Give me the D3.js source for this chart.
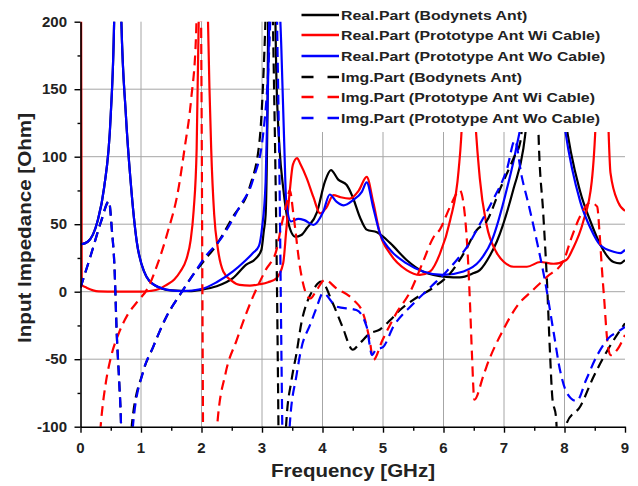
<!DOCTYPE html>
<html>
<head>
<meta charset="utf-8">
<script src="https://cdn.jsdelivr.net/npm/d3@7"></script>
<style>
  body { margin: 0; background: #fff; }
  text { font-family: "Liberation Sans", Arial, sans-serif; font-weight: bold; fill: #222; }
</style>
</head>
<body>
<svg id="chart"></svg>
<script>
// Dimensioni come il riferimento
const width = 638, height = 486;
const plot = { left: 80.5, right: 625, top: 21.7, bottom: 426.7 };

// Tick e assi
const xTicks = [0, 1, 2, 3, 4, 5, 6, 7, 8, 9];
const yTicks = [-100, -50, 0, 50, 100, 150, 200];
const xDomain = [0, 9];
const yDomain = [-100, 200];

// Serie: [frequenza GHz, impedenza Ohm]
const realBodynets = [[0,35],[0.12,37],[0.28,52],[0.39,77],[0.5,131],[0.56,210],[0.61,500],[0.67,210],[0.75,131],[0.83,81],[0.93,37],[1.05,15],[1.22,5],[1.5,1],[1.8,0.5],[2.0,1.5],[2.25,4],[2.52,10],[2.74,20],[2.9,24.7],[2.99,31],[3.03,45],[3.06,57],[3.09,131],[3.12,300],[3.18,300],[3.24,155],[3.29,106],[3.35,77],[3.43,52],[3.55,40.7],[3.65,42],[3.74,47],[3.91,59],[4.04,81.5],[4.14,90],[4.26,83],[4.4,79],[4.5,70],[4.62,55],[4.73,46],[4.9,44],[5.12,36],[5.39,23.5],[5.66,15],[6.05,11],[6.27,10.6],[6.49,13.6],[6.6,16],[6.77,27],[6.88,37],[7.16,76.6],[7.32,106],[7.45,160],[7.65,300],[7.85,200],[8.01,130],[8.26,74],[8.43,52],[8.59,35],[8.81,22],[8.92,21],[9.0,23.5]];

const realWiCable = [[0,400],[0.02,5],[0.1,3],[0.3,0.3],[0.6,0],[1.0,0],[1.14,0.5],[1.3,2],[1.42,5],[1.55,9],[1.65,15],[1.75,24],[1.82,38],[1.87,60],[1.92,106],[1.96,220],[2.03,500],[2.1,220],[2.16,106],[2.21,57],[2.27,32],[2.36,15],[2.5,8],[2.63,5],[2.8,4.5],[2.96,5.5],[3.1,7],[3.24,10],[3.35,21],[3.4,45],[3.46,75],[3.51,94],[3.58,99],[3.63,95],[3.74,84],[3.85,70],[3.96,58],[4.06,62],[4.18,71.6],[4.3,70],[4.45,69],[4.6,75],[4.73,85],[4.84,66],[4.95,43],[5.12,28],[5.39,16],[5.61,12.4],[5.78,15],[5.94,28],[6.11,53],[6.25,90],[6.31,130],[6.4,300],[6.5,150],[6.6,84],[6.71,50],[6.87,29.6],[7.0,22],[7.16,18.5],[7.38,18.5],[7.6,22],[7.82,20.7],[8.03,23.5],[8.14,32],[8.31,52],[8.45,81.5],[8.52,130],[8.62,300],[8.72,130],[8.76,88],[8.89,66],[9.0,60]];

const realWoCable = [[0,35],[0.12,37],[0.28,52],[0.39,77],[0.5,131],[0.56,210],[0.61,500],[0.67,210],[0.75,131],[0.83,81],[0.93,37],[1.05,15],[1.22,5],[1.5,1],[1.7,0.5],[2.0,2],[2.25,7],[2.52,15],[2.7,22],[2.85,28.6],[2.95,34],[3.0,47],[3.06,81.5],[3.1,155],[3.14,250],[3.2,500],[3.27,250],[3.32,180],[3.37,106],[3.4,66.7],[3.48,52],[3.6,54],[3.7,53],[3.85,49.4],[4.01,59],[4.12,72],[4.23,66.7],[4.35,64],[4.51,68],[4.65,74],[4.73,81],[4.84,62],[4.95,43],[5.12,31],[5.39,21],[5.66,15],[5.99,12.4],[6.33,15],[6.6,23],[6.8,38],[7.05,76.6],[7.2,106],[7.32,140],[7.45,250],[7.6,300],[7.8,200],[8.01,120],[8.26,66.7],[8.43,47],[8.59,34.6],[8.81,29.6],[8.92,28.6],[9.0,31]];

const imgBodynets = [[0,3],[0.17,27],[0.34,52],[0.47,67],[0.52,45],[0.56,20],[0.6,-32],[0.64,-67],[0.67,-99],[0.72,-250],[0.8,-200],[0.85,-98],[1.03,-60],[1.2,-41],[1.42,-18.5],[1.64,-2.5],[1.86,12.4],[2.08,25],[2.19,31],[2.52,55.6],[2.8,78],[2.96,112],[3.05,191],[3.12,300],[3.2,150],[3.24,32],[3.27,-91],[3.3,-250],[3.36,-200],[3.4,-98],[3.49,-65],[3.57,-45.7],[3.65,-23.4],[3.76,-6],[3.84,1],[3.98,7.4],[4.17,-8.6],[4.33,-26],[4.5,-43],[4.62,-38],[4.78,-31],[4.95,-28],[5.12,-21],[5.28,-13.6],[5.5,-6],[5.83,3],[6.11,13.6],[6.33,28],[6.55,45.7],[6.71,52],[6.94,76.6],[7.16,99],[7.27,111],[7.4,200],[7.5,300],[7.57,118],[7.65,57],[7.71,8],[7.76,-45],[7.8,-79],[7.86,-93],[7.92,-150],[7.98,-130],[8.04,-97],[8.26,-85],[8.48,-63],[8.69,-45],[9.0,-23.4]];

const imgWiCable = [[0,-400],[0.2,-200],[0.34,-96],[0.42,-67],[0.5,-49],[0.64,-30],[0.78,-17],[0.94,-7.4],[1.11,2.5],[1.27,20],[1.44,44],[1.61,74],[1.72,106],[1.83,143],[1.91,190],[1.97,300],[2.0,150],[2.02,-50],[2.05,-300],[2.15,-200],[2.26,-99],[2.4,-60],[2.58,-36],[2.74,-16],[2.9,1.3],[3.06,16],[3.24,31],[3.32,49],[3.4,64],[3.46,75],[3.52,57],[3.63,17.5],[3.74,-2.5],[3.8,-5],[3.9,1],[4.04,8.7],[4.23,2.5],[4.51,-6],[4.67,-16],[4.78,-36],[4.84,-50.6],[4.99,-36],[5.22,-16],[5.45,0],[5.66,22],[5.83,40],[5.94,46],[6.11,63],[6.27,75],[6.35,58],[6.4,28],[6.44,-11],[6.47,-46],[6.51,-80],[6.66,-62],[6.71,-55.6],[6.99,-28],[7.21,-11],[7.48,1.3],[7.71,11],[7.99,23.5],[8.1,38],[8.26,56],[8.43,66],[8.54,63],[8.58,43],[8.62,16],[8.66,-8],[8.7,-33],[8.76,-47],[8.9,-41],[9.0,-32]];

const imgWoCable = [[0,3],[0.17,27],[0.34,52],[0.47,67],[0.52,45],[0.56,20],[0.6,-32],[0.64,-67],[0.67,-99],[0.72,-250],[0.8,-200],[0.87,-98],[1.03,-60],[1.2,-41],[1.42,-18.5],[1.64,-2.5],[1.86,12.4],[2.08,27],[2.3,38],[2.63,63],[2.85,82.7],[3.02,117],[3.13,192],[3.2,300],[3.26,170],[3.29,81.5],[3.32,-42],[3.35,-150],[3.4,-250],[3.46,-98],[3.57,-62],[3.65,-42],[3.8,-24],[3.9,-12],[4.01,-1],[4.23,-11],[4.56,-13.6],[4.73,-26],[4.82,-47],[4.88,-43],[5.0,-41],[5.17,-26],[5.5,-9],[5.8,4],[6.05,15],[6.22,23.5],[6.4,34],[6.6,50],[6.83,69],[7.05,91],[7.18,112],[7.29,86],[7.42,62],[7.54,38],[7.68,7.4],[7.82,-30],[7.93,-59],[8.04,-75],[8.2,-81],[8.36,-65],[8.53,-48],[8.76,-33],[8.87,-30],[9.0,-26]];

// Legenda
const seriesNames = [
  "Real.Part (Bodynets Ant)",
  "Real.Part (Prototype Ant Wi Cable)",
  "Real.Part (Prototype Ant Wo Cable)",
  "Img.Part (Bodynets Ant)",
  "Img.Part (Prototype Ant Wi Cable)",
  "Img.Part (Prototype Ant Wo Cable)"
];
const seriesData = [realBodynets, realWiCable, realWoCable, imgBodynets, imgWiCable, imgWoCable];
const seriesColors = ["#000000", "#ff0000", "#0000ff", "#000000", "#ff0000", "#0000ff"];
const seriesDashed = [false, false, false, true, true, true];

const svg = d3.select('#chart')
  .attr('width', width)
  .attr('height', height);

const x = d3.scaleLinear().domain(xDomain).range([plot.left, plot.right]);
const y = d3.scaleLinear().domain(yDomain).range([plot.bottom, plot.top]);

// Griglia
svg.append('g')
  .selectAll('line')
  .data(xTicks.filter(d => d > 0 && d < 9))
  .enter().append('line')
  .attr('x1', d => x(d)).attr('x2', d => x(d))
  .attr('y1', plot.top).attr('y2', plot.bottom)
  .attr('stroke', '#a6a6a6').attr('stroke-width', 1);

svg.append('g')
  .selectAll('line')
  .data(yTicks.filter(d => d > -100 && d < 200))
  .enter().append('line')
  .attr('x1', plot.left).attr('x2', plot.right)
  .attr('y1', d => y(d)).attr('y2', d => y(d))
  .attr('stroke', '#a6a6a6').attr('stroke-width', 1);

// Clip dell'area dati
svg.append('clipPath').attr('id', 'clip')
  .append('rect')
  .attr('x', plot.left).attr('y', plot.top)
  .attr('width', plot.right - plot.left)
  .attr('height', plot.bottom - plot.top);

const line = d3.line()
  .x(d => x(d[0]))
  .y(d => y(d[1]))
  .curve(d3.curveMonotoneX);

const curves = svg.append('g').attr('clip-path', 'url(#clip)');
seriesData.forEach((data, i) => {
  curves.append('path')
    .datum(data)
    .attr('d', line)
    .attr('fill', 'none')
    .attr('stroke', seriesColors[i])
    .attr('stroke-width', 2.2)
    .attr('stroke-dasharray', seriesDashed[i] ? '10,6' : null);
});

// Assi con tick esterni
const xAxis = d3.axisBottom(x)
  .tickValues(d3.range(0, 9.01, 0.5))
  .tickSize(0)
  .tickFormat('');
const gx = svg.append('g').attr('transform', `translate(0,${plot.bottom})`).call(xAxis);
gx.select('.domain').attr('stroke', '#000').attr('stroke-width', 1.6);
gx.selectAll('.tick line')
  .attr('y2', d => Number.isInteger(d) ? 6 : 4)
  .attr('stroke', '#000').attr('stroke-width', 1.4);

const yAxis = d3.axisLeft(y)
  .tickValues(d3.range(-100, 200.1, 25))
  .tickSize(0)
  .tickFormat('');
const gy = svg.append('g').attr('transform', `translate(${plot.left},0)`).call(yAxis);
gy.select('.domain').attr('stroke', '#000').attr('stroke-width', 1.6);
gy.selectAll('.tick line')
  .attr('x2', d => d % 50 === 0 ? -6 : -3)
  .attr('stroke', '#000').attr('stroke-width', 1.4);

// Etichette dei tick
svg.append('g')
  .selectAll('text')
  .data(xTicks)
  .enter().append('text')
  .attr('x', d => x(d))
  .attr('y', 453)
  .attr('text-anchor', 'middle')
  .attr('font-size', '15px')
  .text(d => d);

svg.append('g')
  .selectAll('text')
  .data(yTicks)
  .enter().append('text')
  .attr('x', 67)
  .attr('y', d => y(d) + 5)
  .attr('text-anchor', 'end')
  .attr('font-size', '15px')
  .text(d => d);

// Titoli degli assi
svg.append('text')
  .attr('x', 353).attr('y', 477)
  .attr('text-anchor', 'middle')
  .attr('font-size', '18px')
  .attr('textLength', 164).attr('lengthAdjust', 'spacingAndGlyphs')
  .text('Frequency [GHz]');

svg.append('text')
  .attr('transform', 'translate(31,228) rotate(-90)')
  .attr('text-anchor', 'middle')
  .attr('font-size', '18px')
  .attr('textLength', 230).attr('lengthAdjust', 'spacingAndGlyphs')
  .text('Input Impedance [Ohm]');

// Legenda con sfondo bianco
const legendRows = [15, 35, 56, 77, 97, 118];
const legend = svg.append('g');
legend.append('rect')
  .attr('x', 290).attr('y', 0)
  .attr('width', width - 290).attr('height', 132)
  .attr('fill', '#fff');

seriesNames.forEach((name, i) => {
  const row = legend.append('g').attr('transform', `translate(0,${legendRows[i]})`);
  row.append('line')
    .attr('x1', 301.5).attr('x2', 339)
    .attr('stroke', seriesColors[i])
    .attr('stroke-width', 2.4)
    .attr('stroke-dasharray', seriesDashed[i] ? '12,14' : null);
  row.append('text')
    .attr('transform', 'translate(341,4.5) scale(1.22,1)')
    .attr('font-size', '13px')
    .text(name);
});
</script>
</body>
</html>
